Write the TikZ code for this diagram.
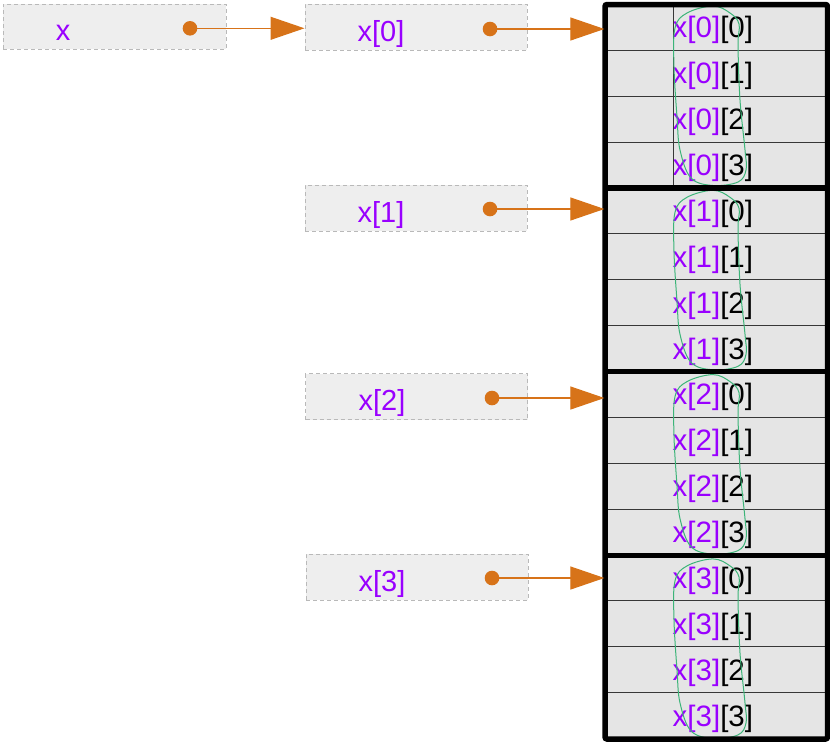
\documentclass[tikz,border=0pt]{standalone}
\usepackage{fontspec}
\setmainfont{Liberation Sans}
\usetikzlibrary{arrows.meta}
\definecolor{idx}{RGB}{153,0,255}
\definecolor{ptr}{RGB}{215,115,25}
\definecolor{lasso}{RGB}{60,180,120}
\definecolor{cellfill}{RGB}{229,229,229}
\definecolor{boxfill}{RGB}{238,238,238}
\definecolor{boxline}{RGB}{185,185,185}
\definecolor{rowline}{RGB}{55,55,55}
\begin{document}
\begin{tikzpicture}[x=1pt,y=-1pt,
  ptrbox/.style={draw=boxline, dash pattern=on 4pt off 3pt, fill=boxfill, line width=1pt,
    minimum width=222pt, minimum height=46pt, inner sep=0pt},
  lbl/.style={anchor=base, inner sep=0pt, text=idx, font=\fontsize{29pt}{34pt}\selectfont},
  celltxt/.style={anchor=base west, inner sep=0pt, font=\fontsize{29.5pt}{34pt}\selectfont},
  cell/.style={draw=rowline, line width=1.2pt, fill=cellfill, minimum width=222.5pt,
    minimum height=45.9pt, inner sep=0pt},
  dot/.style={circle, fill=ptr, minimum size=14.6pt, inner sep=0pt},
  ptrarrow/.style={draw=ptr, line width=1.1pt, -{Triangle[length=34pt,width=23pt,fill=ptr]}},
  lassoline/.style={draw=lasso, line width=1pt},
  border/.style={line width=5.5pt, black}]
\useasboundingbox (0,0) rectangle (830,742);

% pointer boxes
\node[ptrbox, minimum width=223pt, minimum height=45pt] (bx) at (114.5,26.5) {};
\node[ptrbox] (b0) at (416,27) {};
\node[ptrbox] (b1) at (416,208) {};
\node[ptrbox] (b2) at (416.5,396.5) {};
\node[ptrbox] (b3) at (417,577) {};

\node[lbl] (lx) at (63,40.5) {x};
\node[lbl] (l0) at (381,41) {x[0]};
\node[lbl] (l1) at (381,222) {x[1]};
\node[lbl] (l2) at (382,410.5) {x[2]};
\node[lbl] (l3) at (382,591) {x[3]};

\node[dot] (dx) at (190,28.3) {};
\node[dot] (d0) at (490,29) {};
\node[dot] (d1) at (490,209) {};
\node[dot] (d2) at (492,398) {};
\node[dot] (d3) at (492,578) {};

% array cells
\foreach \k in {0,1,2,3}{
  \foreach \j in {0,1,2,3}{
    \pgfmathsetmacro\rc{4.5+183.5*\k+45.875*(\j+0.5)}
    \node[cell] (c\k\j) at (716.25,\rc) {};
    \pgfmathsetmacro\bl{\rc+10.5}
    \node[celltxt] (t\k\j) at (672.5,\bl) {\textcolor{idx}{x[\k]}[\j]};
  }
}
\draw[rowline, line width=1.2pt] (673.3,4.5) -- (673.3,188);

% lassos
\foreach \k in {0,1,2,3}{
  \pgfmathsetmacro\off{184.3*\k}
  \begin{scope}[shift={(0,\off)}]
    \draw[lassoline] plot[smooth cycle, tension=0.6] coordinates {
      (713,6) (730,13) (739,24) (738,45) (740,100) (745,150) (746,170) (738,182)
      (713,185.5) (691,178) (680,150) (677,117) (674,67) (675,28) (687,13)};
  \end{scope}
}

% thick borders
\draw[border, rounded corners=2pt] (605,4.5) rectangle (827.5,739);
\draw[border] (605,188) -- (827.5,188);
\draw[border] (605,371.5) -- (827.5,371.5);
\draw[border] (605,555.5) -- (827.5,555.5);

% pointer arrows
\draw[ptrarrow] (dx.center) -- (dx -| b0.west);
\draw[ptrarrow] (d0.center) -- (d0 -| c00.west);
\draw[ptrarrow] (d1.center) -- (d1 -| c10.west);
\draw[ptrarrow] (d2.center) -- (d2 -| c20.west);
\draw[ptrarrow] (d3.center) -- (d3 -| c30.west);
\end{tikzpicture}
\end{document}
